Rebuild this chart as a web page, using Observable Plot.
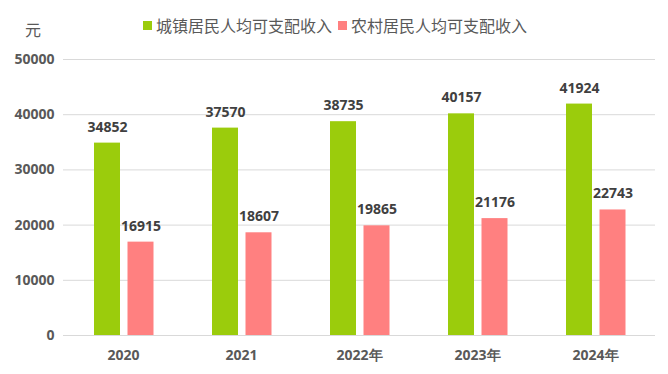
<!DOCTYPE html>
<html>
<head>
<meta charset="utf-8">
<script src="https://cdn.jsdelivr.net/npm/d3@7"></script>
<script src="https://cdn.jsdelivr.net/npm/@observablehq/plot@0.6"></script>
<style>
  body { margin: 0; background: #fff; font-family: "Open Sans", "Noto Sans CJK SC", sans-serif; }
  #wrap { width: 668px; height: 374px; position: relative; }
  #head { position: relative; height: 44px; }
  #unit { position: absolute; left: 25px; top: 18px; font: 16px "Noto Sans CJK SC", sans-serif; color: #595959; line-height: 22px; }
  #legend { position: absolute; left: 143px; top: 14px; display: flex; align-items: center; font: 16px "Noto Sans CJK SC", sans-serif; color: #595959; line-height: 22px; }
  .sw { display: inline-block; width: 9px; height: 9px; margin-right: 4px; }
  .item { display: flex; align-items: center; margin-right: 6px; }
</style>
</head>
<body>
<div id="wrap">
  <div id="head">
    <div id="unit">元</div>
    <div id="legend"></div>
  </div>
  <div id="chart"></div>
</div>
<script>
const years = ["2020", "2021", "2022年", "2023年", "2024年"];
const seriesNames = ["城镇居民人均可支配收入", "农村居民人均可支配收入"];
const urban = [34852, 37570, 38735, 40157, 41924];
const rural = [16915, 18607, 19865, 21176, 22743];
const yTicks = [0, 10000, 20000, 30000, 40000, 50000];
const colors = ["#9BCC0C", "#FF8080"];

const legend = document.getElementById("legend");
seriesNames.forEach((s, i) => {
  const it = document.createElement("div");
  it.className = "item";
  it.innerHTML = `<span class="sw" style="background:${colors[i]}"></span><span>${s}</span>`;
  legend.appendChild(it);
});

const urbanData = years.map((y, i) => ({year: y, value: urban[i]}));
const ruralData = years.map((y, i) => ({year: y, value: rural[i]}));

const labelStyle = {fontSize: 14, fontWeight: "bold", fill: "#404040"};

const chart = Plot.plot({
  width: 668,
  height: 330,
  marginTop: 15,
  marginBottom: 39,
  marginLeft: 63,
  marginRight: 13,
  style: {fontFamily: "'Open Sans', sans-serif", background: "#fff"},
  x: {domain: years, padding: 0, label: null, tickSize: 0, tickPadding: 15},
  y: {domain: [0, 50000], label: null, ticks: yTicks, tickFormat: d => String(d), tickSize: 0, tickPadding: 9},
  marks: [
    Plot.ruleY(yTicks, {stroke: "#d9d9d9", strokeWidth: 1}),
    Plot.barY(urbanData, {x: "year", y: "value", fill: colors[0], insetLeft: 30, insetRight: 62}),
    Plot.barY(ruralData, {x: "year", y: "value", fill: colors[1], insetLeft: 63.5, insetRight: 28.5}),
    Plot.text(urbanData, {x: "year", y: "value", text: d => String(d.value), dx: -16, dy: -16, ...labelStyle}),
    Plot.text(ruralData, {x: "year", y: "value", text: d => String(d.value), dx: 17.5, dy: -16, ...labelStyle})
  ]
});
chart.querySelectorAll('g[aria-label="x-axis tick label"], g[aria-label="y-axis tick label"]').forEach(g => {
  g.setAttribute("font-size", "14");
  g.setAttribute("font-weight", "bold");
  g.setAttribute("fill", "#595959");
});
document.getElementById("chart").appendChild(chart);
</script>
</body>
</html>
